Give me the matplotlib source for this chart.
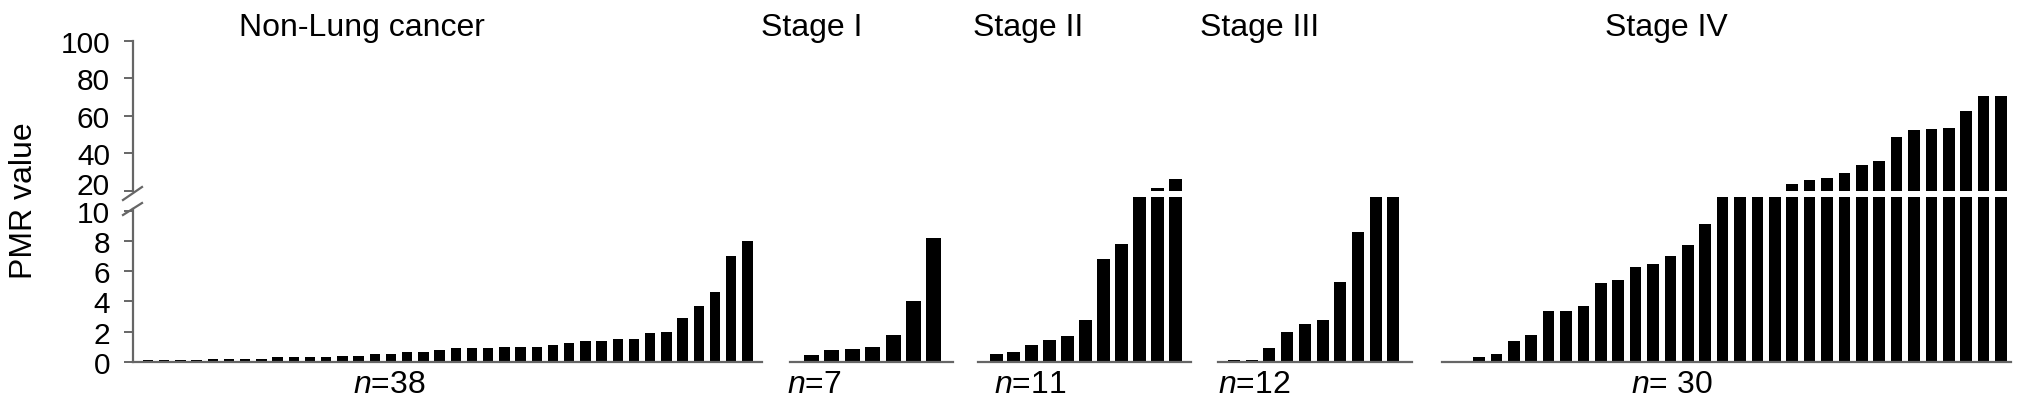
import numpy as np
import matplotlib.pyplot as plt
from matplotlib.lines import Line2D
import matplotlib.transforms as mtransforms

plt.rcParams['font.family'] = ['Liberation Sans', 'DejaVu Sans']
plt.rcParams['mathtext.fontset'] = 'custom'
plt.rcParams['mathtext.it'] = 'Liberation Sans:italic'
plt.rcParams['mathtext.rm'] = 'Liberation Sans'

# PMR values per group (sorted, as shown)
non_lung = [0.1, 0.1, 0.1, 0.1, 0.2, 0.2, 0.2, 0.2, 0.3, 0.3, 0.3, 0.35, 0.4, 0.4,
            0.5, 0.55, 0.65, 0.65, 0.8, 0.9, 0.9, 0.9, 1.0, 1.0, 1.0, 1.1, 1.25,
            1.4, 1.4, 1.5, 1.5, 1.9, 2.0, 2.9, 3.7, 4.6, 7.0, 8.0]
stage_1 = [0.45, 0.8, 0.85, 1.0, 1.8, 4.0, 8.2]
stage_2 = [0.55, 0.65, 1.15, 1.45, 1.75, 2.8, 6.8, 7.8, 15, 21.4, 26.4]
stage_3 = [0.1, 0.15, 0.9, 2.0, 2.5, 2.8, 5.3, 8.6, 15, 15]
stage_4 = [0.3, 0.5, 1.4, 1.8, 3.35, 3.4, 3.7, 5.2, 5.45, 6.3, 6.5, 7.0, 7.75,
           9.1, 15, 15, 15, 15, 23.7, 26.0, 26.8, 29.5, 34.1, 35.9, 48.7, 52.3,
           53.2, 53.3, 62.4, 70.5, 70.5]

titles = ["Non-Lung cancer", "Stage I", "Stage II", "Stage III", "Stage IV"]
n_labels = [r"$n$=38", r"$n$=7", r"$n$=11", r"$n$=12", r"$n$= 30"]
lower_ticks = [0, 2, 4, 6, 8, 10]
upper_ticks = [20, 40, 60, 80, 100]

data = [non_lung, stage_1, stage_2, stage_3, stage_4]

# layout in pixels: (left, right, first bar centre, pitch, bar width)
W, H = 2032, 410
layout = [(133, 762, 148, 16.2, 10.5),
          (790, 953, 811, 20.5, 15),
          (978, 1191, 996, 17.9, 13),
          (1218, 1412, 1234, 17.7, 12),
          (1442, 2011, 1479, 17.4, 11.7)]
title_x = [362, 812, 1028, 1260, 1666]
n_x = [389, 814, 1030, 1254, 1672]

low_bot, low_top = 363, 198
up_bot, up_top = 192, 41.7
grey = '#666666'

fig = plt.figure(figsize=(W / 100, H / 100), dpi=100)

for i, vals in enumerate(data):
    left, right, c0, pitch, bw = layout[i]
    x = np.arange(len(vals))
    xlim = (-(c0 - left) / pitch, len(vals) - 1 + (right - (c0 + (len(vals) - 1) * pitch)) / pitch)

    ax_lo = fig.add_axes([left / W, 1 - low_bot / H, (right - left) / W, (low_bot - low_top) / H])
    ax_up = fig.add_axes([left / W, 1 - up_bot / H, (right - left) / W, (up_bot - up_top) / H])
    for ax in (ax_lo, ax_up):
        ax.bar(x, vals, width=bw / pitch, color='black')
        ax.set_xlim(*xlim)
        ax.set_xticks([])
        ax.spines['top'].set_visible(False)
        ax.spines['right'].set_visible(False)
        ax.patch.set_visible(False)
    ax_lo.set_ylim(0, 10.9)
    ax_up.set_ylim(20, 100)
    ax_up.spines['bottom'].set_visible(False)
    ax_lo.spines['bottom'].set_color(grey)
    ax_lo.spines['bottom'].set_linewidth(1.6)

    if i == 0:
        for ax, ticks in ((ax_lo, lower_ticks), (ax_up, upper_ticks)):
            ax.spines['left'].set_color(grey)
            ax.spines['left'].set_linewidth(1.6)
            ax.set_yticks(ticks)
            ax.tick_params(axis='y', direction='out', length=6.5, width=1.4,
                           color=grey, labelsize=21.5, pad=10)
        ax_lo.spines['left'].set_bounds(0, 10.1)
        # nudge the "20" label up like the reference
        lab = ax_up.get_yticklabels()[0]
        lab.set_transform(lab.get_transform() + mtransforms.ScaledTranslation(0, 8 / 100, fig.dpi_scale_trans))
    else:
        for ax in (ax_lo, ax_up):
            ax.spines['left'].set_visible(False)
            ax.set_yticks([])

    fig.text(title_x[i] / W, 1 - 28 / H, titles[i], fontsize=23, ha='center', va='center')
    fig.text(n_x[i] / W, 1 - 385 / H, n_labels[i], fontsize=23, ha='center', va='center')

# axis break marks
for (xa, ya, xb, yb) in [(123, 216, 142, 204), (123, 201, 142, 188)]:
    fig.add_artist(Line2D([xa / W, xb / W], [1 - ya / H, 1 - yb / H], color=grey,
                          linewidth=1.6, transform=fig.transFigure))

fig.text(24 / W, 1 - 201 / H, "PMR value", fontsize=23, rotation=90, ha='center', va='center')

fig.savefig('out.png', dpi=100)
